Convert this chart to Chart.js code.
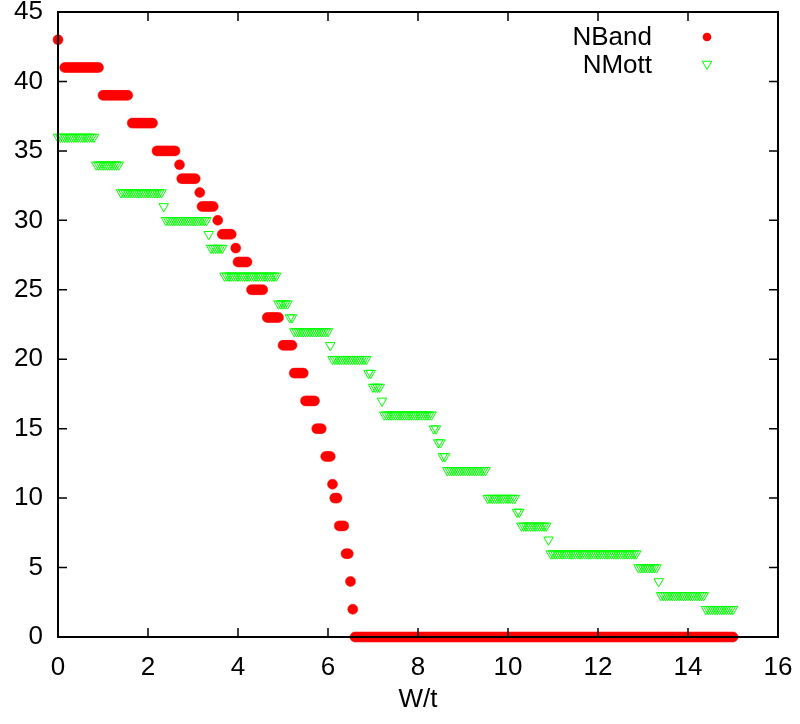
<!DOCTYPE html>
<html>
<head>
<meta charset="utf-8">
<script src="https://cdn.jsdelivr.net/npm/chart.js@4.4.1/dist/chart.umd.min.js"></script>
<style>
  body { margin: 0; background: #fff; }
  #wrap { width: 800px; height: 724px; }
</style>
</head>
<body>
<div id="wrap"><canvas id="chart" width="800" height="724"></canvas></div>
<script>
// W/t sample points
const wt = [
  0, 0.05, 0.1, 0.15, 0.2, 0.25, 0.3, 0.35, 0.4, 0.45, 0.5, 0.55, 0.6, 0.65, 0.7, 0.75, 0.8, 0.85, 0.9, 0.95,
  1, 1.05, 1.1, 1.15, 1.2, 1.25, 1.3, 1.35, 1.4, 1.45, 1.5, 1.55, 1.6, 1.65, 1.7, 1.75, 1.8, 1.85, 1.9, 1.95,
  2, 2.05, 2.1, 2.15, 2.2, 2.25, 2.3, 2.35, 2.4, 2.45, 2.5, 2.55, 2.6, 2.65, 2.7, 2.75, 2.8, 2.85, 2.9, 2.95,
  3, 3.05, 3.1, 3.15, 3.2, 3.25, 3.3, 3.35, 3.4, 3.45, 3.5, 3.55, 3.6, 3.65, 3.7, 3.75, 3.8, 3.85, 3.9, 3.95,
  4, 4.05, 4.1, 4.15, 4.2, 4.25, 4.3, 4.35, 4.4, 4.45, 4.5, 4.55, 4.6, 4.65, 4.7, 4.75, 4.8, 4.85, 4.9, 4.95,
  5, 5.05, 5.1, 5.15, 5.2, 5.25, 5.3, 5.35, 5.4, 5.45, 5.5, 5.55, 5.6, 5.65, 5.7, 5.75, 5.8, 5.85, 5.9, 5.95,
  6, 6.05, 6.1, 6.15, 6.2, 6.25, 6.3, 6.35, 6.4, 6.45, 6.5, 6.55, 6.6, 6.65, 6.7, 6.75, 6.8, 6.85, 6.9, 6.95,
  7, 7.05, 7.1, 7.15, 7.2, 7.25, 7.3, 7.35, 7.4, 7.45, 7.5, 7.55, 7.6, 7.65, 7.7, 7.75, 7.8, 7.85, 7.9, 7.95,
  8, 8.05, 8.1, 8.15, 8.2, 8.25, 8.3, 8.35, 8.4, 8.45, 8.5, 8.55, 8.6, 8.65, 8.7, 8.75, 8.8, 8.85, 8.9, 8.95,
  9, 9.05, 9.1, 9.15, 9.2, 9.25, 9.3, 9.35, 9.4, 9.45, 9.5, 9.55, 9.6, 9.65, 9.7, 9.75, 9.8, 9.85, 9.9, 9.95,
  10, 10.05, 10.1, 10.15, 10.2, 10.25, 10.3, 10.35, 10.4, 10.45, 10.5, 10.55, 10.6, 10.65, 10.7, 10.75, 10.8, 10.85, 10.9, 10.95,
  11, 11.05, 11.1, 11.15, 11.2, 11.25, 11.3, 11.35, 11.4, 11.45, 11.5, 11.55, 11.6, 11.65, 11.7, 11.75, 11.8, 11.85, 11.9, 11.95,
  12, 12.05, 12.1, 12.15, 12.2, 12.25, 12.3, 12.35, 12.4, 12.45, 12.5, 12.55, 12.6, 12.65, 12.7, 12.75, 12.8, 12.85, 12.9, 12.95,
  13, 13.05, 13.1, 13.15, 13.2, 13.25, 13.3, 13.35, 13.4, 13.45, 13.5, 13.55, 13.6, 13.65, 13.7, 13.75, 13.8, 13.85, 13.9, 13.95,
  14, 14.05, 14.1, 14.15, 14.2, 14.25, 14.3, 14.35, 14.4, 14.45, 14.5, 14.55, 14.6, 14.65, 14.7, 14.75, 14.8, 14.85, 14.9, 14.95,
  15
];

// NBand (null = no point at that W/t)
const nBand = [
  43, null, null, 41, 41, 41, 41, 41, 41, 41, 41, 41, 41, 41, 41, 41, 41, 41, 41, null,
  39, 39, 39, 39, 39, 39, 39, 39, 39, 39, 39, 39, null, 37, 37, 37, 37, 37, 37, 37,
  37, 37, 37, null, 35, 35, 35, 35, 35, 35, 35, 35, 35, null, 34, 33, 33, 33, 33, 33,
  33, 33, null, 32, 31, 31, 31, 31, 31, 31, null, 30, null, 29, 29, 29, 29, 29, null, 28,
  27, 27, 27, 27, 27, null, 25, 25, 25, 25, 25, 25, null, 23, 23, 23, 23, 23, 23, null,
  21, 21, 21, 21, 21, 19, 19, 19, 19, 19, 17, 17, 17, 17, 17, 15, 15, 15, null, 13,
  13, 13, 11, 10, 10, 8, 8, 8, 6, 6, 4, 2, 0, 0, 0, 0, 0, 0, 0, 0,
  0, 0, 0, 0, 0, 0, 0, 0, 0, 0, 0, 0, 0, 0, 0, 0, 0, 0, 0, 0,
  0, 0, 0, 0, 0, 0, 0, 0, 0, 0, 0, 0, 0, 0, 0, 0, 0, 0, 0, 0,
  0, 0, 0, 0, 0, 0, 0, 0, 0, 0, 0, 0, 0, 0, 0, 0, 0, 0, 0, 0,
  0, 0, 0, 0, 0, 0, 0, 0, 0, 0, 0, 0, 0, 0, 0, 0, 0, 0, 0, 0,
  0, 0, 0, 0, 0, 0, 0, 0, 0, 0, 0, 0, 0, 0, 0, 0, 0, 0, 0, 0,
  0, 0, 0, 0, 0, 0, 0, 0, 0, 0, 0, 0, 0, 0, 0, 0, 0, 0, 0, 0,
  0, 0, 0, 0, 0, 0, 0, 0, 0, 0, 0, 0, 0, 0, 0, 0, 0, 0, 0, 0,
  0, 0, 0, 0, 0, 0, 0, 0, 0, 0, 0, 0, 0, 0, 0, 0, 0, 0, 0, 0,
  0
];

// NMott
const nMott = [
  36, 36, 36, 36, 36, 36, 36, 36, 36, 36, 36, 36, 36, 36, 36, 36, 36, 34, 34, 34,
  34, 34, 34, 34, 34, 34, 34, 34, 32, 32, 32, 32, 32, 32, 32, 32, 32, 32, 32, 32,
  32, 32, 32, 32, 32, 32, 32, 31, 30, 30, 30, 30, 30, 30, 30, 30, 30, 30, 30, 30,
  30, 30, 30, 30, 30, 30, 30, 29, 28, 28, 28, 28, 28, 28, 26, 26, 26, 26, 26, 26,
  26, 26, 26, 26, 26, 26, 26, 26, 26, 26, 26, 26, 26, 26, 26, 26, 26, 26, 24, 24,
  24, 24, 24, 23, 23, 22, 22, 22, 22, 22, 22, 22, 22, 22, 22, 22, 22, 22, 22, 22,
  22, 21, 20, 20, 20, 20, 20, 20, 20, 20, 20, 20, 20, 20, 20, 20, 20, 20, 19, 19,
  18, 18, 18, 18, 17, 16, 16, 16, 16, 16, 16, 16, 16, 16, 16, 16, 16, 16, 16, 16,
  16, 16, 16, 16, 16, 16, 16, 15, 15, 14, 14, 13, 13, 12, 12, 12, 12, 12, 12, 12,
  12, 12, 12, 12, 12, 12, 12, 12, 12, 12, 12, 10, 10, 10, 10, 10, 10, 10, 10, 10,
  10, 10, 10, 10, 9, 9, 8, 8, 8, 8, 8, 8, 8, 8, 8, 8, 8, 8, 7, 6,
  6, 6, 6, 6, 6, 6, 6, 6, 6, 6, 6, 6, 6, 6, 6, 6, 6, 6, 6, 6,
  6, 6, 6, 6, 6, 6, 6, 6, 6, 6, 6, 6, 6, 6, 6, 6, 6, 6, 5, 5,
  5, 5, 5, 5, 5, 5, 5, 4, 3, 3, 3, 3, 3, 3, 3, 3, 3, 3, 3, 3,
  3, 3, 3, 3, 3, 3, 3, 3, 2, 2, 2, 2, 2, 2, 2, 2, 2, 2, 2, 2,
  2
];

const xTicks = [0, 2, 4, 6, 8, 10, 12, 14, 16];
const yTicks = [0, 5, 10, 15, 20, 25, 30, 35, 40, 45];
const seriesNames = ["NBand", "NMott"];

const FONT = '"Liberation Sans", Arial, Helvetica, sans-serif';
const RED = '#ff0000';
const GREEN = '#00ff00';

function points(ys) {
  return wt.map((x, i) => ({ x: x, y: ys[i] }));
}

// gnuplot style frame: border plus inward ticks on all four sides
const framePlugin = {
  id: 'frame',
  afterDatasetsDraw(chart) {
    const { ctx, chartArea: a, scales } = chart;
    const len = 9;
    ctx.save();
    ctx.strokeStyle = '#000';
    ctx.lineWidth = 1.5;
    ctx.beginPath();
    xTicks.forEach(v => {
      const px = scales.x.getPixelForValue(v);
      ctx.moveTo(px, a.bottom); ctx.lineTo(px, a.bottom - len);
      ctx.moveTo(px, a.top); ctx.lineTo(px, a.top + len);
    });
    yTicks.forEach(v => {
      const py = scales.y.getPixelForValue(v);
      ctx.moveTo(a.left, py); ctx.lineTo(a.left + len, py);
      ctx.moveTo(a.right, py); ctx.lineTo(a.right - len, py);
    });
    ctx.stroke();
    ctx.lineWidth = 2;
    ctx.strokeRect(a.left, a.top, a.right - a.left, a.bottom - a.top);
    ctx.restore();
  }
};

// key in the top right corner: text right aligned, symbol to its right
const keyPlugin = {
  id: 'key',
  afterDraw(chart) {
    const ctx = chart.ctx;
    ctx.save();
    ctx.font = '26px ' + FONT;
    ctx.fillStyle = '#000';
    ctx.textAlign = 'right';
    ctx.textBaseline = 'middle';
    ctx.fillText(seriesNames[0], 652, 38);
    ctx.fillText(seriesNames[1], 652, 66);

    ctx.fillStyle = RED;
    ctx.beginPath();
    ctx.arc(707, 37, 4.3, 0, Math.PI * 2);
    ctx.fill();

    const r = 5.5, cx = 707, cy = 64;
    ctx.strokeStyle = GREEN;
    ctx.lineWidth = 1;
    ctx.beginPath();
    ctx.moveTo(cx, cy + r);
    ctx.lineTo(cx - r * 0.866, cy - r / 2);
    ctx.lineTo(cx + r * 0.866, cy - r / 2);
    ctx.closePath();
    ctx.stroke();
    ctx.restore();
  }
};

new Chart(document.getElementById('chart'), {
  type: 'scatter',
  data: {
    datasets: [
      {
        label: seriesNames[0],
        data: points(nBand),
        pointStyle: 'circle',
        pointRadius: 5,
        pointBackgroundColor: RED,
        pointBorderColor: RED,
        pointBorderWidth: 0.5,
        showLine: false,
        clip: false
      },
      {
        label: seriesNames[1],
        data: points(nMott),
        pointStyle: 'triangle',
        pointRotation: 180,
        pointRadius: 5.5,
        pointBackgroundColor: 'rgba(0,0,0,0)',
        pointBorderColor: GREEN,
        pointBorderWidth: 1,
        showLine: false,
        clip: false
      }
    ]
  },
  options: {
    responsive: false,
    animation: false,
    layout: { padding: { top: 12, right: 22, left: 0, bottom: 0 } },
    plugins: {
      legend: { display: false },
      tooltip: { enabled: false }
    },
    scales: {
      x: {
        type: 'linear',
        min: 0,
        max: 16,
        afterBuildTicks: s => { s.ticks = xTicks.map(v => ({ value: v })); },
        afterFit: s => { s.height = 87; s.paddingLeft = 0; s.paddingRight = 0; },
        grid: { display: false, drawTicks: false },
        border: { display: false },
        ticks: { color: '#000', font: { family: FONT, size: 26 }, padding: 15, maxRotation: 0 },
        title: { display: true, text: 'W/t', color: '#000', font: { family: FONT, size: 26 }, padding: { top: 0, bottom: 9 } }
      },
      y: {
        type: 'linear',
        min: 0,
        max: 45,
        afterBuildTicks: s => { s.ticks = yTicks.map(v => ({ value: v })); },
        afterFit: s => { s.width = 58; s.paddingTop = 0; s.paddingBottom = 0; },
        grid: { display: false, drawTicks: false },
        border: { display: false },
        ticks: { color: '#000', font: { family: FONT, size: 26 }, padding: 15 }
      }
    }
  },
  plugins: [framePlugin, keyPlugin]
});
</script>
</body>
</html>
